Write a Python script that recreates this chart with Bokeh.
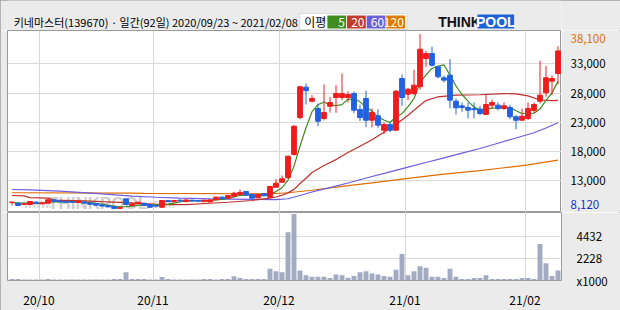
from bokeh.plotting import figure
from bokeh.layouts import column, row
from bokeh.models import (Range1d, FixedTicker, Label, BoxAnnotation, ColumnDataSource)
from bokeh.core.properties import value
from bokeh.embed import file_html
from bokeh.resources import INLINE

# ---------------- data ----------------
title_text = "키네마스터(139670) · 일간(92일) 2020/09/23 ~ 2021/02/08"

opens = [9280, 9130, 8950, 8910, 9310, 9030, 9130, 9720, 9500, 9450,
         9400, 9250, 9350, 9150, 9080, 8850, 8700, 8550, 8250, 9880,
         8740, 9030, 9130, 8910, 8740, 8450, 9600, 9400, 9650, 9400,
         9650, 9600, 9400, 9350, 9720, 10170, 10000, 10330, 10630, 11140,
         10630, 10060, 10750, 10160, 11880, 12730, 13500, 17470, 23800, 29000,
         26600, 25350, 23640, 25740, 27230, 27230, 27230, 27920, 25170, 27060,
         23340, 24100, 21630, 22610, 21630, 30480, 27800, 27920, 29060, 33910,
         34760, 32490, 30600, 31050, 26600, 25800, 25520, 25300, 25230, 24320,
         25920, 25920, 25350, 25520, 23930, 23340, 23640, 25010, 26600, 28030,
         30030, 31340]
highs = [9330, 9200, 9100, 9500, 9400, 9250, 9800, 9800, 9600, 9550,
         9500, 9550, 9400, 9200, 9150, 8900, 8750, 8600, 8450, 9950,
         9100, 9350, 9200, 8950, 8800, 9650, 9700, 9650, 9800, 9750,
         9700, 9650, 9700, 9750, 10250, 10300, 10500, 11100, 11500, 11200,
         10700, 10700, 10850, 12100, 13250, 13880, 17300, 22500, 29230, 29630,
         27620, 26200, 29460, 27350, 29340, 31340, 28260, 28260, 26000, 28430,
         25350, 25230, 23000, 23000, 28500, 31170, 28890, 31960, 38100, 35200,
         35910, 32600, 31000, 33790, 27060, 26370, 26370, 26370, 25800, 27740,
         26900, 26370, 26370, 26000, 24200, 25300, 26370, 26370, 33510, 32630,
         31000, 36000]
lows = [8750, 8650, 8900, 8850, 9000, 8980, 9050, 9350, 9300, 9250,
        9250, 9200, 9100, 8900, 8750, 8600, 8450, 8120, 8200, 8800,
        8700, 9000, 8700, 8400, 8550, 8400, 9350, 9350, 9450, 9350,
        9450, 9400, 9350, 9300, 9700, 9800, 9950, 10300, 10600, 10450,
        9950, 10000, 10300, 10100, 11800, 12600, 13300, 17300, 23500, 26040,
        26380, 22320, 23300, 24650, 24610, 26800, 26370, 24600, 23200, 22150,
        22100, 22040, 20990, 21300, 21500, 25830, 26770, 27630, 28600, 32500,
        32500, 30500, 29800, 25350, 24320, 24780, 23640, 23640, 24200, 24300,
        25350, 25000, 25100, 23500, 21800, 23340, 23340, 24500, 26200, 27350,
        27630, 29500]
closes = [9320, 8740, 9030, 9430, 9080, 9200, 9720, 9430, 9350, 9300,
          9300, 9450, 9130, 8950, 8800, 8650, 8500, 8250, 8380, 8910,
          9030, 9310, 8740, 8450, 8630, 9600, 9400, 9600, 9500, 9700,
          9500, 9480, 9650, 9700, 10170, 9900, 10450, 10850, 10970, 10510,
          10000, 10630, 10400, 12000, 12560, 13310, 17180, 22320, 29060, 28400,
          27060, 23170, 24660, 26370, 27920, 27920, 27740, 25060, 23800, 23340,
          24660, 22500, 22610, 21630, 28310, 27230, 28650, 29340, 35500, 34760,
          32760, 30780, 30200, 26770, 25470, 25500, 25060, 25150, 24490, 26030,
          26370, 25350, 25800, 23930, 23340, 24030, 25350, 26030, 27630, 30600,
          30480, 35200]
volumes = [150, 150, 100, 100, 100, 100, 150, 100, 100, 100,
           100, 100, 100, 100, 100, 100, 100, 150, 150, 820,
           150, 150, 150, 100, 100, 340, 150, 100, 100, 100,
           100, 100, 150, 150, 100, 150, 150, 430, 240, 150,
           150, 150, 150, 1160, 910, 820, 4800, 6620, 1000, 520,
           370, 370, 370, 240, 610, 520, 280, 460, 820, 910,
           700, 610, 460, 370, 1060, 2640, 520, 910, 1430, 1280,
           370, 370, 240, 1160, 370, 150, 150, 240, 240, 520,
           150, 150, 150, 150, 150, 240, 240, 150, 3640, 1730,
           460, 1000]

ma5 = [9250, 9200, 9150, 9150, 9120, 9096, 9292, 9372, 9356, 9400,
       9420, 9366, 9306, 9226, 9126, 8996, 8806, 8630, 8516, 8538,
       8614, 8776, 8874, 8888, 8832, 8946, 8964, 9136, 9346, 9560,
       9540, 9556, 9566, 9606, 9700, 9780, 9974, 10214, 10468, 10536,
       10556, 10592, 10502, 10708, 11118, 11780, 13090, 15474, 18886, 22054,
       24804, 26002, 26470, 25932, 25836, 26008, 26922, 27002, 26488, 25572,
       24920, 23872, 23382, 22948, 23942, 24456, 25686, 27032, 29806, 31096,
       32202, 32628, 32800, 31054, 29196, 27744, 26600, 25590, 25134, 25246,
       25420, 25478, 25608, 25496, 24958, 24490, 24490, 24536, 25276, 26728,
       28018, 29988]

ma20_idx = [0, 2, 3, 6, 7, 12, 15, 19, 22, 25, 29, 33, 36, 40, 43, 44, 45, 46, 47, 48,
            49, 50, 51, 52, 54, 56, 58, 60, 62, 64, 66, 68, 69, 71, 74, 78, 82, 84, 86, 88,
            90, 91]
ma20_val = [10450, 10400, 10100, 10000, 9650, 9550, 9400, 9250, 9050, 8880, 8880, 9130, 9300,
            9600, 10000, 10200, 10500, 10900, 11500, 12500, 13400, 14400, 15000, 15600,
            16600, 17800, 18900, 20000, 21300, 22600, 24200, 25900, 26700, 27350, 27630,
            27700, 27900, 27850, 27500, 26800, 26700, 26750]

ma60_idx = [0, 3, 8, 15, 20, 24, 28, 33, 40, 44, 46, 48, 50, 53, 56, 60, 63, 66, 69, 72,
            75, 78, 81, 84, 87, 89, 91]
ma60_val = [11480, 11430, 11190, 10740, 10330, 10150, 10000, 9880, 9780, 9760, 9900,
            10450, 11050, 11800, 12600, 13700, 14500, 15300, 16100, 16900, 17700, 18500,
            19400, 20300, 21200, 22000, 22900]

ma120_idx = [0, 20, 22, 40, 44, 46, 50, 55, 60, 66, 72, 78, 82, 86, 91]
ma120_val = [10920, 10850, 10800, 10750, 10800, 10920, 11350, 12000, 12600, 13400, 14100,
             14700, 15200, 15700, 16500]

price_ticks = [13000, 18000, 23000, 28000, 33000]
price_max = 38100
price_min = 8120
vol_ticks = [0, 2228, 4432]
vol_tick_labels = ["x1000", "2228", "4432"]
month_first_idx = [5, 24, 45, 66, 86]
month_labels = ["20/10", "20/11", "20/12", "21/01", "21/02"]
legend_periods = ["5", "20", "60", "120"]

# ---------------- styles ----------------
BG = "#ebebeb"
FONT = "Noto Sans CJK KR"
RED = "#f01c1c"
BLUE = "#2262e0"
C5, C20, C60, C120 = "#3c8c1e", "#c0302a", "#6b5ce0", "#e06c00"
LEG = ["#3e8e22", "#c43a2c", "#6a63d8", "#e07a00"]
VOL = "#a3abc3"
GRID = "#d9d9d9"
OUTLINE = "#9a9a9a"

Y_LO, Y_HI = 7543, 38700
PX_PER_WON = 182 / (Y_HI - Y_LO)

n = len(closes)
idx = list(range(n))
colors = [RED if c >= o else BLUE for o, c in zip(opens, closes)]
src = ColumnDataSource(dict(
    x=idx, h=highs, l=lows,
    top=[max(o, c) for o, c in zip(opens, closes)],
    bot=[min(o, c) for o, c in zip(opens, closes)],
    color=colors, vol=volumes))

xr = Range1d(-0.75, 91.583)
yr = Range1d(Y_LO, Y_HI)
grid_x = [i - 0.5 for i in month_first_idx]

# ---------------- header ----------------
hdr = figure(width=620, height=30, x_range=Range1d(0, 620), y_range=Range1d(30, 0),
             toolbar_location=None, output_backend="svg", min_border=0,
             x_axis_location=None, y_axis_location=None)
hdr.grid.visible = False
hdr.outline_line_color = None
hdr.background_fill_color = BG
hdr.border_fill_color = BG

hdr.add_layout(Label(x=7, y=21.5, text=title_text, text_baseline="middle",
                     text_font=FONT, text_font_size="11px", text_color="#000000"))
hdr.add_layout(BoxAnnotation(left=327, right=447, top=13, bottom=29,
                             fill_color="white", fill_alpha=1, line_color="#a0a0a0", line_width=1))
hdr.add_layout(Label(x=332, y=21, text="이평", text_baseline="middle",
                     text_font=FONT, text_font_size="12px", text_color="#000000"))
box_lefts = [358, 380, 402, 424]
for k, (lab, col) in enumerate(zip(legend_periods, LEG)):
    l0 = box_lefts[k]
    hdr.add_layout(BoxAnnotation(left=l0, right=l0 + 21, top=15, bottom=28,
                                 fill_color=col, fill_alpha=1, line_color=None))
    hdr.add_layout(Label(x=l0 + 19.5, y=21.5, text=lab, text_align="right", text_baseline="middle",
                         text_font=FONT, text_font_size="12px", text_color="white"))
# ThinkPool logo
hdr.add_layout(Label(x=482, y=21.5, text="THINK", text_baseline="middle",
                     text_font="Liberation Sans", text_font_style="bold",
                     text_font_size="14px", text_color="#111111"))
hdr.add_layout(BoxAnnotation(left=526, right=567, top=14, bottom=28,
                             fill_color="#1f62d8", fill_alpha=1, line_color=None))
hdr.add_layout(Label(x=546.5, y=21.5, text="POOL", text_align="center", text_baseline="middle",
                     text_font="Liberation Sans", text_font_style="bold",
                     text_font_size="14px", text_color="white"))

# ---------------- price panel ----------------
p = figure(width=561, height=182, x_range=xr, y_range=yr,
           toolbar_location=None, output_backend="svg",
           min_border_left=7, min_border_right=0, min_border_top=0, min_border_bottom=0,
           x_axis_location=None, y_axis_location=None)
p.background_fill_color = "white"
p.border_fill_color = BG
p.outline_line_color = OUTLINE
p.outline_line_width = 1
p.ygrid.ticker = FixedTicker(ticks=price_ticks)
p.xgrid.ticker = FixedTicker(ticks=grid_x)
p.grid.grid_line_color = GRID
p.grid.grid_line_width = 1

# watermark (sits just above the bottom edge of the price frame)
for txt, xx, fs, style in [("www.", 1.9, "12px", "normal"),
                           ("THINKPOOL", 6.0, "17px", "bold"),
                           (".com", 22.8, "12px", "normal")]:
    p.add_layout(Label(x=xx, y=Y_LO + 9 / PX_PER_WON, text=txt, text_baseline="alphabetic",
                       text_font="Liberation Sans", text_font_style=style,
                       text_font_size=fs, text_color="#bdbdbd", text_alpha=0.75,
                       level="underlay"))

p.line(ma120_idx, ma120_val, line_color=C120, line_width=1.2)
p.line(ma60_idx, ma60_val, line_color=C60, line_width=1.2)
p.line(ma20_idx, ma20_val, line_color=C20, line_width=1.2)
p.line(idx, ma5, line_color=C5, line_width=1.2)

p.segment(x0="x", y0="l", x1="x", y1="h", line_color="color", line_width=1, source=src)
p.vbar(x="x", width=0.8, top="top", bottom="bot", fill_color="color",
       line_color="color", line_width=1, source=src)

# right-hand price labels panel (shares the price scale)
pax = figure(width=59, height=182, x_range=Range1d(0, 59), y_range=yr,
             toolbar_location=None, output_backend="svg", min_border=0,
             x_axis_location=None, y_axis_location=None)
pax.grid.visible = False
pax.outline_line_color = None
pax.background_fill_color = BG
pax.border_fill_color = BG
pax.text(x=[9] * len(price_ticks), y=price_ticks, text=[f"{t:,}" for t in price_ticks],
         text_baseline="middle", text_font=value(FONT), text_font_size="11.5px",
         text_color="#000000")
max_label_y = min(price_max, Y_HI - 8 / PX_PER_WON)
min_label_y = max(price_min, Y_LO + 8 / PX_PER_WON)
pax.text(x=[9, 9], y=[max_label_y, min_label_y], text=[f"{price_max:,}", f"{price_min:,}"],
         text_baseline="middle", text_font=value(FONT), text_font_size="11.5px",
         text_color=["#e07000", "#1a2fd0"])

# ---------------- volume panel ----------------
v = figure(width=620, height=98, x_range=xr, y_range=Range1d(0, 6780),
           toolbar_location=None, output_backend="svg",
           min_border_left=7, min_border_right=59, min_border_top=0, min_border_bottom=23,
           x_axis_location="below", y_axis_location="right")
v.background_fill_color = "white"
v.border_fill_color = BG
v.outline_line_color = OUTLINE
v.outline_line_width = 1
v.ygrid.ticker = FixedTicker(ticks=vol_ticks[1:])
v.xgrid.ticker = FixedTicker(ticks=grid_x)
v.grid.grid_line_color = GRID
v.vbar(x="x", width=0.82, top="vol", bottom=0, fill_color=VOL, line_color=None, source=src)

vy = v.yaxis[0]
vy.ticker = FixedTicker(ticks=vol_ticks)
vy.major_label_overrides = {t: s for t, s in zip(vol_ticks, vol_tick_labels)}
vy.axis_line_color = None
vy.major_tick_line_color = None
vy.minor_tick_line_color = None
vy.major_label_standoff = 9
vy.major_label_text_font = FONT
vy.major_label_text_font_size = "11.5px"
vy.major_label_text_color = "#000000"

vx = v.xaxis[0]
vx.ticker = FixedTicker(ticks=grid_x)
vx.major_label_overrides = {t: s for t, s in zip(grid_x, month_labels)}
vx.axis_line_color = None
vx.major_tick_line_color = None
vx.minor_tick_line_color = None
vx.major_label_standoff = 4
vx.major_label_text_font = FONT
vx.major_label_text_font_size = "12px"
vx.major_label_text_color = "#000000"

layout = column(hdr, row(p, pax, spacing=0), v, spacing=0,
                styles={"outline": "1px solid #a0a0a0", "outline-offset": "-1px"})

open("out.html", "w").write(file_html(layout, INLINE))
